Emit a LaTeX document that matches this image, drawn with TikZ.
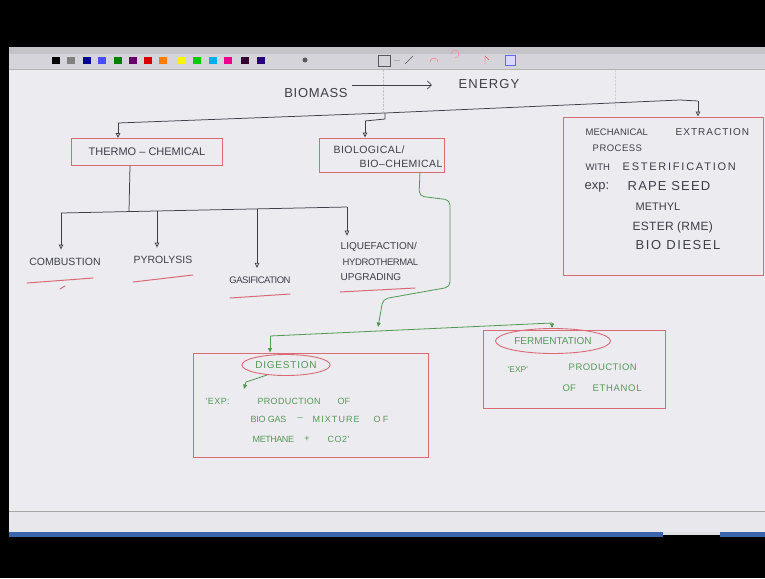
\documentclass[tikz,border=0pt]{standalone}
\usepackage{fontspec}
\newfontfamily\hand{Liberation Sans}
\newcommand\hw[2]{\hand\fontsize{#1}{#1}\selectfont\addfontfeature{LetterSpace=#2}}
\usetikzlibrary{arrows.meta,shapes.geometric,calc}
\definecolor{canvas}{HTML}{ECEBF0}
\definecolor{ink}{HTML}{3E3E48}
\definecolor{boxred}{HTML}{D96A76}
\definecolor{grn}{HTML}{4F9A52}
\definecolor{grntext}{HTML}{559858}
\definecolor{tbar}{HTML}{D4D4DA}
\definecolor{blu}{HTML}{3A64AC}
\begin{document}
\begin{tikzpicture}[x=1pt,y=-1pt,
  lbl/.style={font=\hw{9}{0}, text=ink, inner sep=0.5pt},
  glbl/.style={lbl, text=grntext},
  wl/.style={anchor=west},
  redbox/.style={draw=boxred, line width=0.9pt},
  redell/.style={draw=boxred, line width=0.9pt, ellipse, inner sep=0pt},
  conn/.style={draw=ink, line width=0.75pt},
  gconn/.style={draw=grn, line width=0.8pt},
  redline/.style={draw=boxred, line width=1pt, line cap=round},
  tip/.style={-{Triangle[open,length=5pt,width=4.5pt]}},
  gtip/.style={-{Triangle[length=4.5pt,width=4pt]}}
]
\useasboundingbox (0,0) rectangle (765,578);
% screen frame
\fill[black] (0,0) rectangle (765,578);
\fill[tbar!80!gray] (9,47) rectangle (765,54);
\fill[tbar] (9,54) rectangle (765,69);
\draw[gray!60] (9,69) -- (765,69);
\fill[canvas] (9,69.5) rectangle (765,511);
\draw[gray!70, line width=1pt] (9,511.5) -- (765,511.5);
\fill[canvas!96!gray] (9,512) rectangle (765,532);
\fill[blu] (9,532) rectangle (663,537);
\fill[canvas!90!gray] (663,532) rectangle (720,535);
\fill[blu] (720,532) rectangle (765,537);
% toolbar swatches
\foreach \xx/\cc in {52/black, 67/gray, 83/{blue!60!black}, 98/{blue!70!white}, 114/{green!50!black}, 129/{violet!80!black}, 144/{red!85!black}, 159/orange, 178/yellow, 193/green!80!black, 209/cyan, 224/magenta, 241/{violet!40!black}, 257/{blue!50!violet!60!black}}
  \fill[\cc] (\xx,57) rectangle ++(8,7);
\fill[gray!70!black] (305,60) circle (2.5);
\draw[gray!70!black] (378,55) rectangle (390,66);
\draw[gray!60] (394,60) -- (400,60);
\draw[gray!70!black] (405,64) -- (413,56);
\draw[red!60] (430,62) arc (180:360:4);
\draw[red!50] (455,58) arc (90:-180:4);
\draw[red!70] (485,64) -- (485,56) -- (489,60);
\draw[blue!60, fill=blue!15] (505,55) rectangle (515,65);
% faint page marks
\draw[gray!45, densely dotted] (383,70) -- (383,112);
\draw[gray!35, densely dotted] (615,70) -- (615,108);

% title
\node[lbl, font=\hw{13}{5}] (biomass) at (316,93) {BIOMASS};
\node[lbl, font=\hw{13}{9}] (energy) at (489,84) {ENERGY};
\draw[conn, -{Straight Barb[length=4pt]}] ($(biomass.east)+(4,-8)$) -- ($(energy.west)+(-26,1)$);

% level 1 boxes
\node[redbox, lbl, font=\hw{11}{0}, minimum width=151, minimum height=27] (thermo) at (147,152) {THERMO – CHEMICAL};
\node[redbox, minimum width=125, minimum height=34] (bio) at (382,155) {};
\node[lbl, wl, font=\hw{10.5}{4}] (bio1) at (333,150) {BIOLOGICAL/};
\node[lbl, wl, font=\hw{10.5}{4}] (bio2) at (359,164) {BIO–CHEMICAL};
\node[redbox, minimum width=200, minimum height=158] (mech) at (663,196) {};
\node[lbl, wl, font=\hw{9.5}{0}] (m1a) at (585,132) {MECHANICAL};
\node[lbl, wl, font=\hw{10}{10}] (m1b) at (675,132) {EXTRACTION};
\node[lbl, wl, font=\hw{9.5}{5}] (m2) at (592,148) {PROCESS};
\node[lbl, wl, font=\hw{9.5}{0}] (m3a) at (585,167) {WITH};
\node[lbl, wl, font=\hw{11}{16}] (m3b) at (622,167) {ESTERIFICATION};
\node[lbl, wl, font=\hw{13}{0}] (m4a) at (584,187) {exp:};
\node[lbl, wl, font=\hw{13}{9}] (m4b) at (627,186) {RAPE SEED};
\node[lbl, wl, font=\hw{11}{0}] (m5) at (635,207) {METHYL};
\node[lbl, wl, font=\hw{12}{2}] (m6) at (632,227) {ESTER (RME)};
\node[lbl, wl, font=\hw{13}{12}] (m7) at (635,245) {BIO DIESEL};

% top distribution
\coordinate (jl) at (118,123);
\coordinate (jm) at (385,113);
\coordinate (jr) at (680,100);
\coordinate (jrr) at (698,101);
\coordinate (jb) at (365,121);
\draw[conn] (jl) -- (jm) -- (jr) -- (jrr);
\draw[conn, tip] (jl) -- (jl |- thermo.north);
\draw[conn] (jm) -- (385,119) -- (jb);
\draw[conn, tip] (jb) -- (jb |- bio.north);
\draw[conn, tip] (jrr) -- (jrr |- mech.north);

% thermo-chemical branch
\node[lbl, font=\hw{10.5}{0}] (comb) at (65,262) {COMBUSTION};
\node[lbl, font=\hw{10.5}{0}] (pyro) at (163,260) {PYROLYSIS};
\node[lbl, font=\hw{9.5}{-5}] (gasif) at (260,280) {GASIFICATION};
\node[lbl, wl, font=\hw{10}{0}] (liq) at (340,247) {LIQUEFACTION/};
\node[lbl, wl, font=\hw{9.5}{-4}] (hyd) at (342,262) {HYDROTHERMAL};
\node[lbl, wl, font=\hw{10}{0}] (upg) at (340,277) {UPGRADING};
\coordinate (ts) at (129,211);
\coordinate (b1) at (61,213);
\coordinate (b2) at (157,211);
\coordinate (b3) at (257,209);
\coordinate (b4) at (347,207);
\draw[conn] ($(thermo.south)+(-17,0)$) -- (ts);
\draw[conn] (b1) -- (b4);
\draw[conn, tip, shorten >=8pt] (b1) -- (b1 |- comb.north);
\draw[conn, tip, shorten >=8pt] (b2) -- (b2 |- pyro.north);
\draw[conn, tip, shorten >=8pt] (b3) -- (b3 |- gasif.north);
\draw[conn, tip, shorten >=6pt] (b4) -- (b4 |- liq.north);
\draw[redline] (27,283) -- (93,278);
\draw[redline] (60,289) -- (65,286);
\draw[redline] (133,282) -- (193,275);
\draw[redline] (230,298) -- (290,294);
\draw[redline] (340,292) -- (415,288);

% biological branch
\node[redbox, minimum width=235, minimum height=104] (dig) at (310.5,405) {};
\node[redell, glbl, font=\hw{10}{8}, minimum width=80, minimum height=21] (digl) at (286,365) {DIGESTION};
\node[glbl, wl, font=\hw{9}{5}] (d1a) at (205,401) {'EXP:};
\node[glbl, wl, font=\hw{9}{3}] (d1b) at (257,401) {PRODUCTION};
\node[glbl, wl, font=\hw{9}{0}] (d1c) at (337,401) {OF};
\node[glbl, wl, font=\hw{9}{-3}] (d2a) at (250,419) {BIO GAS};
\node[glbl, font=\hw{9}{0}] (d2b) at (300,419) {–};
\node[glbl, wl, font=\hw{9}{12}] (d2c) at (312,419) {MIXTURE};
\node[glbl, wl, font=\hw{9}{25}] (d2d) at (373,419) {OF};
\node[glbl, wl, font=\hw{9}{-5}] (d3a) at (252,439) {METHANE};
\node[glbl, font=\hw{9}{0}] (d3b) at (307,439) {+};
\node[glbl, wl, font=\hw{9}{5}] (d3c) at (327,439) {CO2'};
\node[redbox, minimum width=182, minimum height=78] (ferm) at (574,369) {};
\node[redell, glbl, font=\hw{10}{0}, minimum width=115, minimum height=25] (ferml) at (553,341) {FERMENTATION};
\node[glbl, wl, font=\hw{8.5}{0}] (f1) at (507,370) {'EXP'};
\node[glbl, wl, font=\hw{9.5}{5}] (f2) at (568,367) {PRODUCTION};
\node[glbl, wl, font=\hw{9.5}{0}] (f3a) at (562,388) {OF};
\node[glbl, wl, font=\hw{9.5}{7}] (f3b) at (592,388) {ETHANOL};

\coordinate (g0) at (420,172);
\coordinate (gm) at (378,327);
\draw[gconn, gtip, rounded corners=5pt] (g0) -- (419,196) -- (450,200) -- (450,287) -- (383,299) -- (gm);
\coordinate (gl) at (270,336);
\coordinate (gr) at (552,323);
\draw[gconn] (gl) -- (gr);
\draw[gconn, gtip] (gl) -- (gl |- dig.north);
\draw[gconn, gtip] (gr) -- (gr |- ferml.north);
\coordinate (ds) at (267,375);
\coordinate (dt) at (244,389);
\draw[gconn, gtip] (ds) -- (246,382) -- (dt);
\end{tikzpicture}
\end{document}
